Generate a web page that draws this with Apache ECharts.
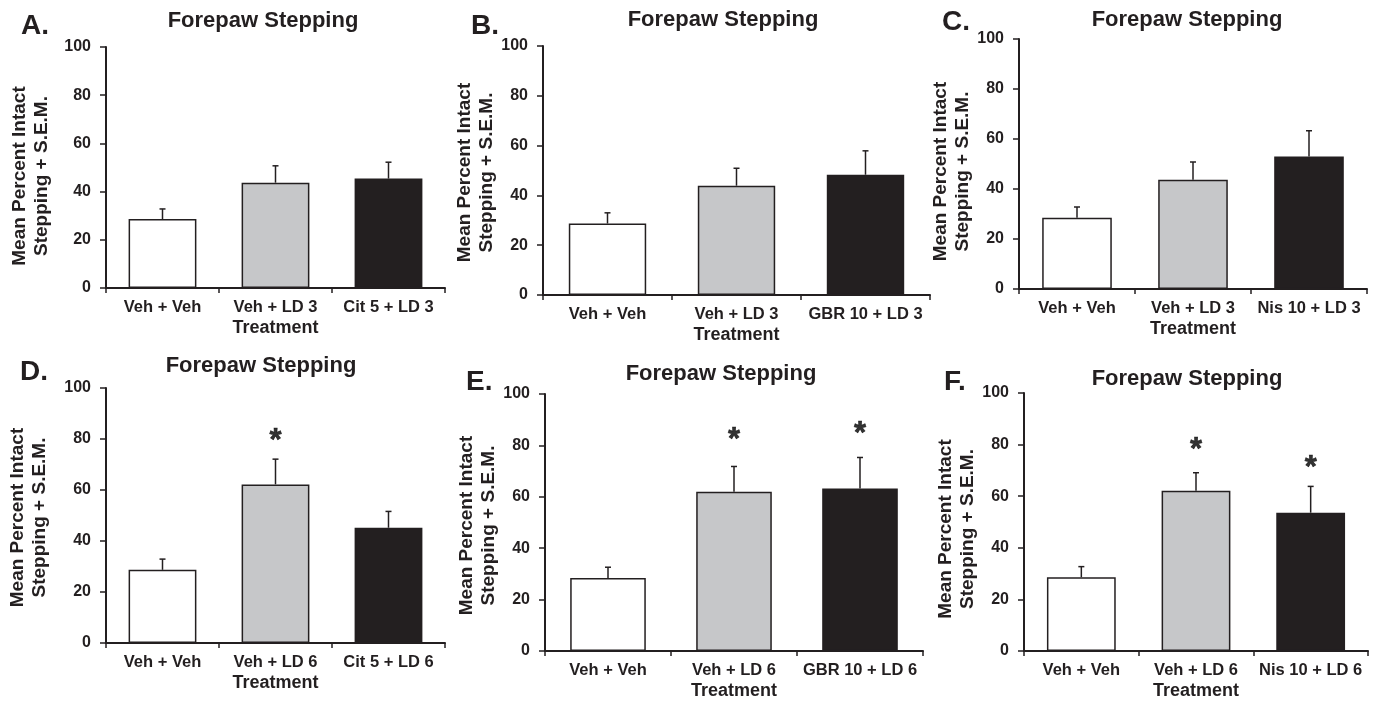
<!DOCTYPE html>
<html>
<head>
<meta charset="utf-8">
<title>Forepaw Stepping</title>
<script src="https://cdn.jsdelivr.net/npm/echarts@6/dist/echarts.min.js"></script>
<style>
  html, body { margin: 0; padding: 0; background: #fff; }
  #main { width: 1377px; height: 701px; }
</style>
</head>
<body>
<div id="main"></div>
<script>
// data (mean % intact stepping and S.E.M.)
var labelsA = ['Veh + Veh', 'Veh + LD 3', 'Cit 5 + LD 3'];
var meanA = [28.6, 43.7, 45.4];
var semA = [4.2, 7.0, 6.8];

var labelsB = ['Veh + Veh', 'Veh + LD 3', 'GBR 10 + LD 3'];
var meanB = [28.7, 43.9, 48.3];
var semB = [4.3, 7.0, 9.6];

var labelsC = ['Veh + Veh', 'Veh + LD 3', 'Nis 10 + LD 3'];
var meanC = [28.5, 43.7, 53.0];
var semC = [4.3, 7.1, 10.3];

var labelsD = ['Veh + Veh', 'Veh + LD 6', 'Cit 5 + LD 6'];
var meanD = [28.7, 62.2, 45.2];
var semD = [4.2, 9.9, 6.4];
var starD = [null, 81.0, null];

var labelsE = ['Veh + Veh', 'Veh + LD 6', 'GBR 10 + LD 6'];
var meanE = [28.4, 62.0, 63.2];
var semE = [4.2, 9.8, 12.1];
var starE = [null, 83.7, 86.3];

var labelsF = ['Veh + Veh', 'Veh + LD 6', 'Nis 10 + LD 6'];
var meanF = [28.6, 62.1, 53.6];
var semF = [4.1, 7.0, 10.2];
var starF = [null, 79.5, 72.8];

var yTicks = [0, 20, 40, 60, 80, 100];
var barColors = ['#ffffff', '#c6c7c9', '#231f20'];
var ink = '#231f20';
var font = '"Liberation Sans", Arial, sans-serif';

// panel layout (pixels)
var panels = [
  { tag: 'A.', labels: labelsA, mean: meanA, sem: semA, star: null,
    grid: { left: 106, top: 47, width: 339, height: 241 },
    title: [263, 21], letter: [21, 26], nameGap: 53, namePad: 17 },
  { tag: 'B.', labels: labelsB, mean: meanB, sem: semB, star: null,
    grid: { left: 543, top: 46, width: 387, height: 249 },
    title: [723, 20], letter: [471, 26], nameGap: 39, namePad: 4 },
  { tag: 'C.', labels: labelsC, mean: meanC, sem: semC, star: null,
    grid: { left: 1019, top: 39, width: 348, height: 250 },
    title: [1187, 20], letter: [942, 22], nameGap: 39, namePad: 15 },
  { tag: 'D.', labels: labelsD, mean: meanD, sem: semD, star: starD,
    grid: { left: 106, top: 388, width: 339, height: 255 },
    title: [261, 366], letter: [20, 372], nameGap: 55, namePad: 4 },
  { tag: 'E.', labels: labelsE, mean: meanE, sem: semE, star: starE,
    grid: { left: 545, top: 394, width: 378, height: 261 },
    title: [721, 374], letter: [466, 382], nameGap: 40, namePad: 6 },
  { tag: 'F.', labels: labelsF, mean: meanF, sem: semF, star: starF,
    grid: { left: 1024, top: 393, width: 344, height: 258 },
    title: [1187, 379], letter: [944, 382], nameGap: 39, namePad: 14 }
];

function renderErr(params, api) {
  var x = api.value(0);
  var p0 = api.coord([x, api.value(1)]);
  var p1 = api.coord([x, api.value(2)]);
  var st = { stroke: ink, lineWidth: 1.5 };
  return {
    type: 'group',
    children: [
      { type: 'line', shape: { x1: p0[0], y1: p0[1], x2: p1[0], y2: p1[1] }, style: st },
      { type: 'line', shape: { x1: p1[0] - 3, y1: p1[1], x2: p1[0] + 3, y2: p1[1] }, style: st }
    ]
  };
}

var grids = [], xAxes = [], yAxes = [], series = [], graphics = [];

panels.forEach(function (p, k) {
  grids.push(p.grid);
  xAxes.push({
    type: 'category', gridIndex: k, data: p.labels,
    name: 'Treatment', nameLocation: 'middle', nameGap: 31,
    nameTextStyle: { fontFamily: font, fontWeight: 'bold', fontSize: 18, color: ink },
    axisLine: { lineStyle: { color: ink, width: 2 } },
    axisTick: { show: true, length: 5, lineStyle: { color: ink, width: 1.5 } },
    axisLabel: { fontFamily: font, fontWeight: 'bold', fontSize: 16.5, color: ink, margin: 11, interval: 0 },
    splitLine: { show: false }
  });
  yAxes.push({
    type: 'value', gridIndex: k, min: yTicks[0], max: yTicks[yTicks.length - 1], interval: 20,
    name: 'Mean Percent Intact\nStepping + S.E.M.', nameLocation: 'middle', nameGap: p.nameGap,
    nameTextStyle: { fontFamily: font, fontWeight: 'bold', fontSize: 19, lineHeight: 22, color: ink,
      padding: [0, p.namePad, 0, 0] },
    axisLine: { show: true, lineStyle: { color: ink, width: 2 } },
    axisTick: { show: true, length: 6, lineStyle: { color: ink, width: 1.5 } },
    axisLabel: { fontFamily: font, fontWeight: 'bold', fontSize: 16, color: ink, margin: 15 },
    splitLine: { show: false }
  });
  series.push({
    type: 'bar', xAxisIndex: k, yAxisIndex: k, barCategoryGap: '40%',
    data: p.mean.map(function (v, i) {
      return { value: v, itemStyle: { color: barColors[i], borderColor: ink, borderWidth: 1.5 } };
    }),
    silent: true, animation: false
  });
  series.push({
    type: 'custom', xAxisIndex: k, yAxisIndex: k, renderItem: renderErr,
    encode: { x: 0, y: [1, 2] },
    data: p.mean.map(function (v, i) { return [i, v, v + p.sem[i]]; }),
    z: 1, silent: true, animation: false
  });
  if (p.star) {
    series.push({
      type: 'scatter', xAxisIndex: k, yAxisIndex: k, symbolSize: 0,
      data: p.star.map(function (v, i) { return v == null ? null : [i, v]; }).filter(Boolean),
      label: { show: true, position: 'inside', formatter: '*', offset: [0, 5],
        fontFamily: font, fontWeight: 'bold', fontSize: 31, color: '#000000',
        textBorderColor: '#000000', textBorderWidth: 0.6 },
      silent: true, animation: false
    });
  }
  graphics.push({
    type: 'text', x: p.title[0], y: p.title[1],
    style: { text: 'Forepaw Stepping', fontFamily: font, fontWeight: 'bold', fontSize: 22,
      fill: ink, textAlign: 'center', textVerticalAlign: 'middle' }
  });
  graphics.push({
    type: 'text', x: p.letter[0], y: p.letter[1],
    style: { text: p.tag, fontFamily: font, fontWeight: 'bold', fontSize: 28,
      fill: ink, textAlign: 'left', textVerticalAlign: 'middle' }
  });
});

var chart = echarts.init(document.getElementById('main'), null, { renderer: 'canvas' });
chart.setOption({
  backgroundColor: '#ffffff',
  animation: false,
  grid: grids,
  xAxis: xAxes,
  yAxis: yAxes,
  series: series,
  graphic: graphics
});
</script>
</body>
</html>
